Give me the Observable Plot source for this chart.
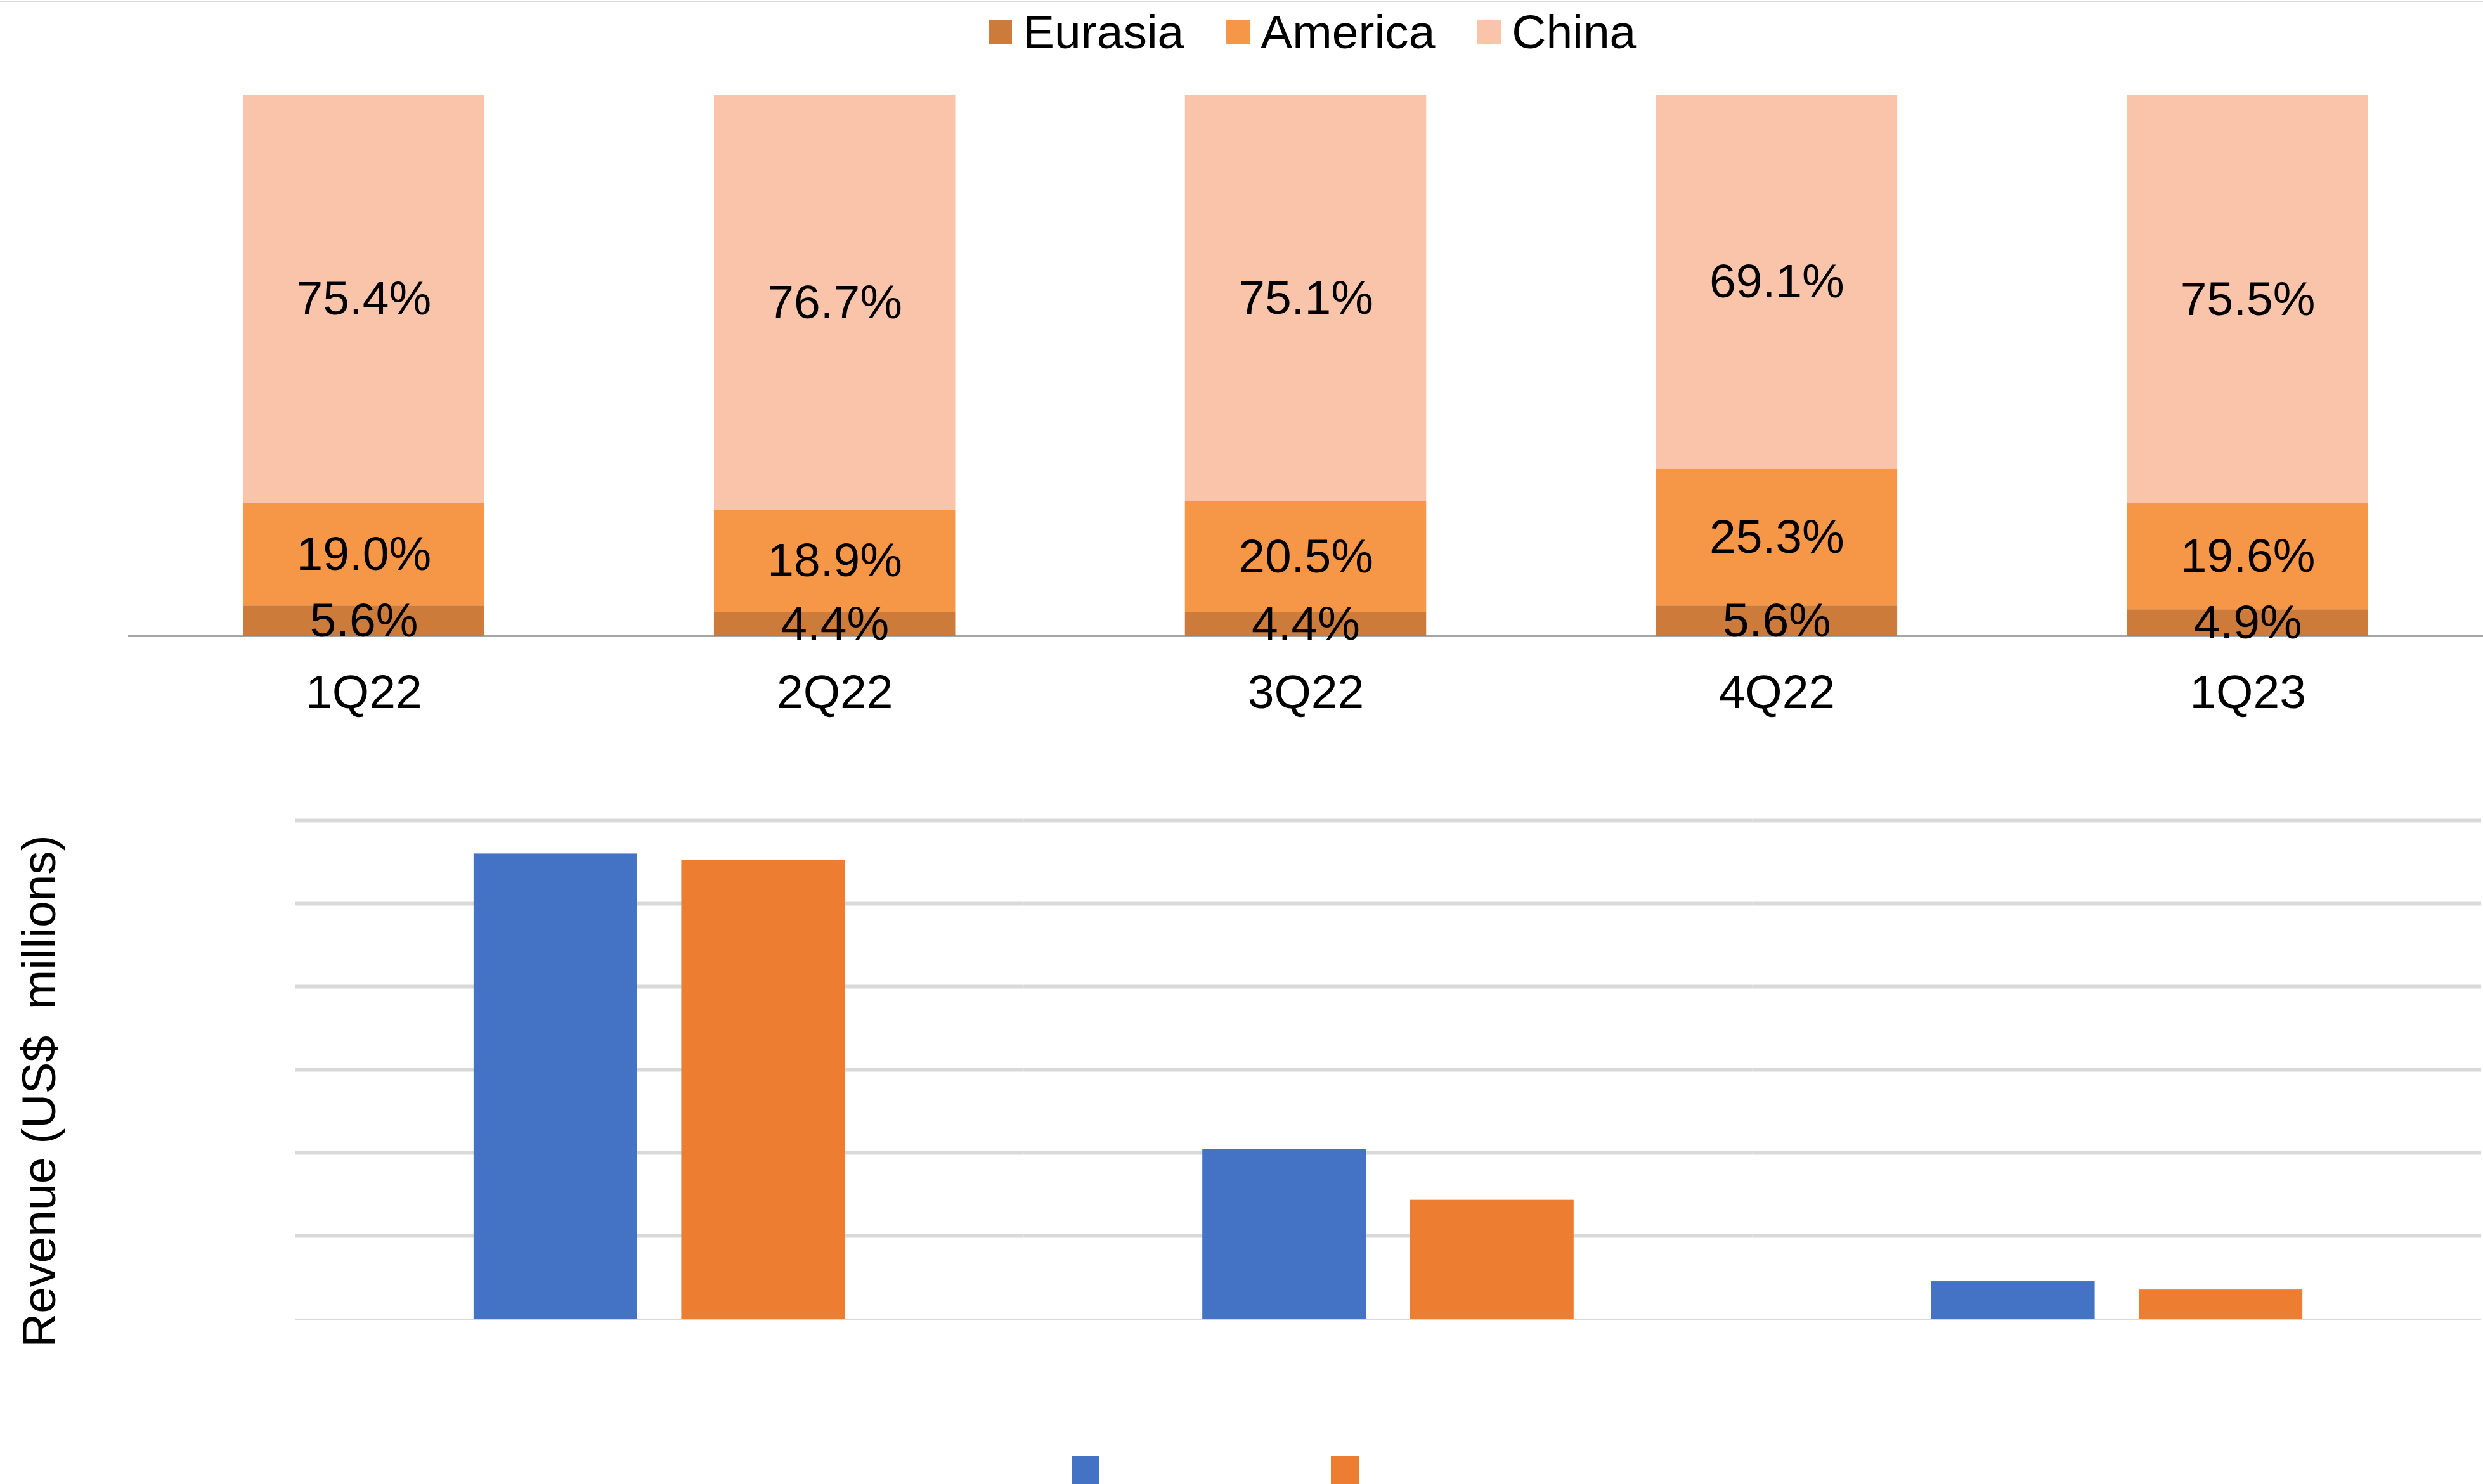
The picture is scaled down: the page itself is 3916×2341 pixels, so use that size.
<!DOCTYPE html>
<html>
<head>
<meta charset="utf-8">
<script src="https://cdn.jsdelivr.net/npm/d3@7"></script>
<script src="https://cdn.jsdelivr.net/npm/@observablehq/plot@0.6"></script>
<style>
  html, body { margin: 0; padding: 0; background: #fff; }
  #root { position: relative; width: 3916px; height: 2341px; overflow: hidden; background: #fff; }
  #topline { position: absolute; left: 0; top: 1px; width: 3916px; height: 2px; background: #d9d9d9; }
  #top { position: absolute; left: 0; top: 0; }
  #bottom { position: absolute; left: 0; top: 1150px; }
  #leg1 { position: absolute; left: 1559px; top: 7px; }
  #leg2 { position: absolute; left: 1690px; top: 2297px; }
  .lg1-swatches, .lg2-swatches { margin: 0 !important; line-height: normal; }
  .lg2-swatches { min-height: 0 !important; }
  .lg1-swatch { margin-right: 67px !important; }
  .lg1-swatch > svg { margin-right: 17px !important; }
  .lg2-swatch { margin-right: 365px !important; }
  .lg2-swatch > svg { margin-right: 0 !important; display: block; }
</style>
</head>
<body>
<div id="root">
  <div id="top"></div>
  <div id="bottom"></div>
  <div id="topline"></div>
  <div id="leg1"></div>
  <div id="leg2"></div>
</div>
<script>
// ---- Top chart data: revenue share by region ----
const quarters = ["1Q22", "2Q22", "3Q22", "4Q22", "1Q23"];
const regions = ["Eurasia", "America", "China"];
const regionColors = ["#CC7B3A", "#F69748", "#F9C4AA"];
const eurasiaShare = [5.6, 4.4, 4.4, 5.6, 4.9];
const americaShare = [19.0, 18.9, 20.5, 25.3, 19.6];
const chinaShare = [75.4, 76.7, 75.1, 69.1, 75.5];

// ---- Bottom chart data: revenue (no category / series labels shown in the picture) ----
const categories = ["Category 1", "Category 2", "Category 3"];
const series = ["Series 1", "Series 2"];
const seriesColors = ["#4472C4", "#ED7D31"];
const series1Values = [560, 204.5, 45];
const series2Values = [552, 143, 35];
const revenueTicks = [0, 100, 200, 300, 400, 500, 600];
const yTitle = "Revenue (US$\u00a0 millions)";

const font = '"Liberation Sans", Arial, sans-serif';

const shareRows = quarters.flatMap((q, i) => [
  {quarter: q, region: regions[0], share: eurasiaShare[i]},
  {quarter: q, region: regions[1], share: americaShare[i]},
  {quarter: q, region: regions[2], share: chinaShare[i]}
]);

const topChart = Plot.plot({
  width: 3916,
  height: 1150,
  marginTop: 150,
  marginBottom: 147,
  marginLeft: 202,
  marginRight: 0,
  style: {fontSize: "75px", fontFamily: font, color: "#000", background: "transparent", overflow: "visible"},
  x: {domain: quarters, paddingInner: 0.4877, paddingOuter: 0.2438, round: false, label: null},
  y: {domain: [0, 100], axis: null},
  color: {domain: regions, range: regionColors},
  marks: [
    Plot.barY(shareRows, {x: "quarter", y: "share", fill: "region"}),
    Plot.ruleY([0], {stroke: "#898989", strokeWidth: 2.5}),
    Plot.text(shareRows, Plot.stackY({
      x: "quarter", y: "share", z: "region",
      text: d => d.share.toFixed(1) + "%",
      fill: "#000"
    })),
    Plot.axisX({tickSize: 0, tickPadding: 60, label: null, fill: "#000"})
  ]
});
document.getElementById("top").appendChild(topChart);

const revenueRows = categories.flatMap((c, i) => [
  {category: c, series: series[0], value: series1Values[i]},
  {category: c, series: series[1], value: series2Values[i]}
]);

const bottomChart = Plot.plot({
  width: 3916,
  height: 1050,
  marginTop: 144,
  marginBottom: 120,
  marginLeft: 465,
  marginRight: 3,
  style: {fontSize: "75px", fontFamily: font, color: "#000", background: "transparent", overflow: "visible"},
  fx: {domain: categories, padding: 0, axis: null, round: false, label: null},
  x: {domain: series, paddingInner: 0.2122, paddingOuter: 0.8605, axis: null, round: false},
  y: {domain: [0, 600], axis: null},
  color: {domain: series, range: seriesColors},
  marks: [
    Plot.gridY(revenueTicks.slice(1), {stroke: "#d9d9d9", strokeOpacity: 1, strokeWidth: 6}),
    Plot.ruleY([revenueTicks[0]], {stroke: "#d9d9d9", strokeWidth: 2.5, dy: 1}),
    Plot.barY(revenueRows, {fx: "category", x: "series", y: "value", fill: "series"}),
    Plot.text([yTitle], {
      fx: () => categories[0],
      text: d => d,
      frameAnchor: "left",
      textAnchor: "middle",
      lineAnchor: "middle",
      rotate: -90,
      dx: -402.6,
      dy: 34,
      fill: "#000"
    })
  ]
});
document.getElementById("bottom").appendChild(bottomChart);

const leg1 = Plot.legend({
  color: {domain: regions, range: regionColors},
  swatchSize: 37,
  className: "lg1",
  style: {fontSize: "75px", fontFamily: font, color: "#000"}
});
document.getElementById("leg1").appendChild(leg1);

// The reference shows only the two swatches of this legend, without names.
const leg2 = Plot.legend({
  color: {domain: series, range: seriesColors},
  swatchSize: 44,
  className: "lg2",
  tickFormat: () => "",
  style: {fontSize: "75px", fontFamily: font, color: "#000"}
});
document.getElementById("leg2").appendChild(leg2);
</script>
</body>
</html>
